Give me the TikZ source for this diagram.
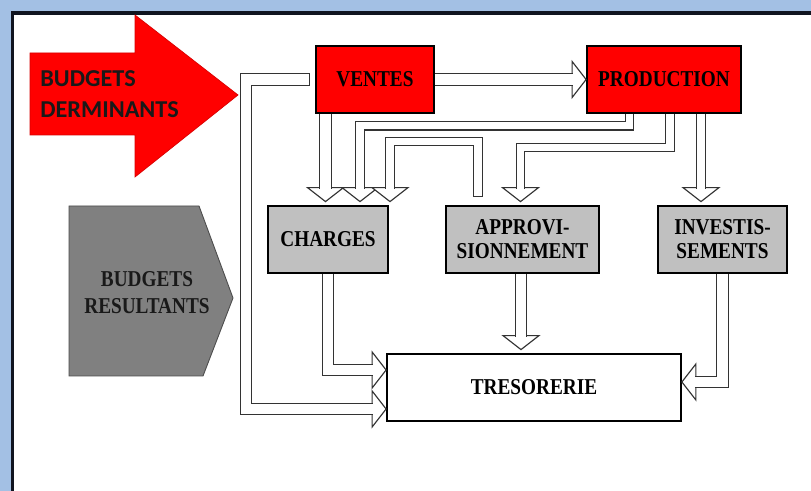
\documentclass[tikz,border=0pt]{standalone}
\usepackage{fontspec}
\setmainfont{Liberation Serif}
\newfontfamily\boxfont[FakeStretch=0.85]{Liberation Serif}
\newfontfamily\arrowfont{Carlito}
\usepackage{tikz}
\usepackage{xcolor}
\definecolor{detcol}{RGB}{255,0,0}
\definecolor{rescol}{RGB}{128,128,128}
\definecolor{boxcol}{RGB}{192,192,192}
\definecolor{framecol}{RGB}{163,192,228}
\definecolor{edgecol}{RGB}{16,20,32}

\begin{document}
\begin{tikzpicture}[
  box/.style={rectangle, draw=black, line width=1pt, minimum height=1.34cm,
              align=center, inner sep=1pt,
              font=\boxfont\bfseries\fontsize{12.9pt}{13.7pt}\selectfont},
  pipe/.style={draw=black!80, line width=0.65pt, double=white,
               double distance=5.8pt, shorten >=0.26cm},
  thinpipe/.style={pipe, double distance=4pt},
  hollowtip/.pic={\filldraw[fill=white, draw=black!80, line width=0.65pt]
                  (0,0) -- (-0.28,0.36) -- (-0.28,-0.36) -- cycle;}
]
  \useasboundingbox (0,0) rectangle (16.22,9.82);
  \clip (0,0) rectangle (16.22,9.82);

  % Frame
  \fill[framecol] (0,0) rectangle (16.22,9.82);
  \filldraw[fill=white, draw=edgecol, line width=2.2pt] (0.25,-1) rectangle (17,9.56);

  % Budgets determinants (red arrow)
  \filldraw[fill=detcol, draw=detcol!85!black, line width=0.4pt]
    (0.60,8.76) -- (2.70,8.76) -- (2.70,9.52) -- (4.76,7.92)
    -- (2.70,6.28) -- (2.70,7.12) -- (0.60,7.12) -- cycle;
  \node[anchor=west, align=left, inner sep=0pt, text=black!90,
        font=\arrowfont\bfseries\fontsize{13.8pt}{17.6pt}\selectfont]
    (det) at (0.80,7.94) {BUDGETS\\DERMINANTS};

  % Budgets resultants (grey pentagon)
  \filldraw[fill=rescol, draw=black!70, line width=0.5pt]
    (1.38,5.70) -- (3.98,5.70) -- (4.66,3.86) -- (4.06,2.30) -- (1.38,2.30) -- cycle;
  \node[align=center, inner sep=0pt, text=black!90,
        font=\boxfont\bfseries\fontsize{12.9pt}{15.3pt}\selectfont]
    (res) at (2.94,3.96) {BUDGETS\\RESULTANTS};

  % Budgets
  \node[box, fill=detcol, minimum width=2.36cm] (ventes) at (7.50,8.23) {VENTES};
  \node[box, fill=detcol, minimum width=3.08cm] (prod) at (13.28,8.23) {PRODUCTION};
  \node[box, fill=boxcol, minimum width=2.40cm] (charges) at (6.56,5.03) {CHARGES};
  \node[box, fill=boxcol, minimum width=3.06cm] (appro) at (10.45,5.03) {APPROVI-\\SIONNEMENT};
  \node[box, fill=boxcol, minimum width=2.58cm] (invest) at (14.45,5.03) {INVESTIS-\\SEMENTS};
  \node[box, fill=white, minimum width=5.88cm] (treso) at (10.68,2.07) {TRESORERIE};

  % Arrow ends
  \coordinate (c1) at ([xshift=-0.05cm,yshift=2pt]charges.north);
  \coordinate (c2) at ([xshift=0.64cm,yshift=2pt]charges.north);
  \coordinate (c3) at ([xshift=1.24cm,yshift=2pt]charges.north);
  \coordinate (a1) at ([xshift=-0.04cm,yshift=2pt]appro.north);
  \coordinate (i1) at ([xshift=-0.43cm,yshift=2pt]invest.north);
  \coordinate (t1) at ([yshift=0.35cm]treso.west);
  \coordinate (t2) at ([xshift=-0.26cm,yshift=2pt]treso.north);
  \coordinate (t3) at ([yshift=0.11cm]treso.east);
  \coordinate (t4) at ([yshift=-0.43cm]treso.west);

  \foreach \c in {c1,c2,c3,a1,i1,t2}
    \pic[rotate=-90] at (\c) {hollowtip};
  \foreach \c in {t1,t4,prod.west}
    \pic at (\c) {hollowtip};
  \pic[rotate=180] at (t3) {hollowtip};

  % Flows
  \draw[pipe] (ventes.east) -- (prod.west);
  \draw[pipe] ([xshift=-0.12cm]ventes.west) -- ++(-1.26,0) |- (t4);
  \draw[pipe] (c1 |- ventes.south) -- (c1);
  \draw[thinpipe] ([xshift=-0.69cm]prod.south) -- ++(0,-0.24) -| (c2);
  \draw[thinpipe] ([xshift=0.12cm]prod.south) -- ++(0,-0.67) -| (a1);
  \draw[thinpipe] (i1 |- prod.south) -- (i1);
  \draw[thinpipe] ([xshift=-0.89cm,yshift=0.18cm]appro.north) -- ++(0,1.09) -| (c3);
  \draw[pipe] (charges.south) |- (t1);
  \draw[pipe] (t2 |- appro.south) -- (t2);
  \draw[pipe] (invest.south) |- (t3);

  % closed starts
  \draw[black!80, line width=0.65pt]
    ([xshift=-0.12cm,yshift=-3.55pt]ventes.west) -- ++(0,7.1pt);
  \draw[black!80, line width=0.65pt]
    ([xshift=-0.89cm-2.65pt,yshift=0.18cm]appro.north) -- ++(5.3pt,0);
\end{tikzpicture}
\end{document}
